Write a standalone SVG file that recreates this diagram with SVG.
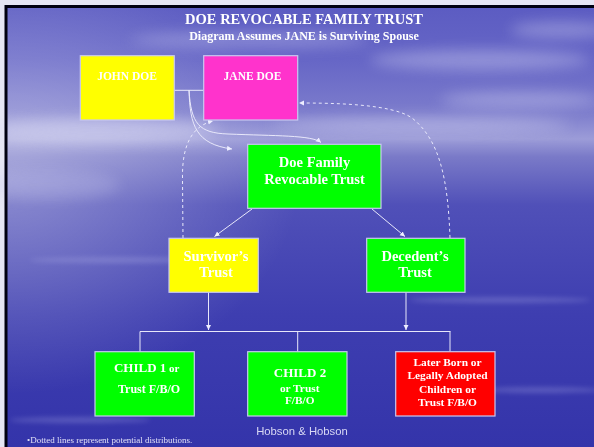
<svg xmlns="http://www.w3.org/2000/svg" width="594" height="447" viewBox="0 0 594 447">
<defs>
<linearGradient id="sky" x1="0" y1="0" x2="0" y2="1">
<stop offset="0" stop-color="#5c5cc2"/>
<stop offset="0.12" stop-color="#6666c6"/>
<stop offset="0.24" stop-color="#7c7ccc"/>
<stop offset="0.30" stop-color="#9c9cd8"/>
<stop offset="0.34" stop-color="#7a7ac8"/>
<stop offset="0.45" stop-color="#5050b8"/>
<stop offset="0.7" stop-color="#3e3eb0"/>
<stop offset="1" stop-color="#3434aa"/>
</linearGradient>
<radialGradient id="leftglow" cx="0" cy="0.38" r="0.5">
<stop offset="0" stop-color="#ffffff" stop-opacity="0.35"/>
<stop offset="1" stop-color="#ffffff" stop-opacity="0"/>
</radialGradient>
<filter id="blur" x="-50%" y="-50%" width="200%" height="200%"><feGaussianBlur stdDeviation="7"/></filter>
<filter id="blur2" x="-50%" y="-50%" width="200%" height="200%"><feGaussianBlur stdDeviation="2.5"/></filter>
<marker id="ah" markerWidth="6" markerHeight="6" refX="5" refY="3" orient="auto" markerUnits="userSpaceOnUse">
<path d="M0,0.5 L5,3 L0,5.5 Z" fill="#eeeeff"/>
</marker>
<style>
.bx{stroke:#c8c8f0;stroke-width:1.2}
.t{font-family:"Liberation Serif","Times New Roman",serif;font-weight:bold;fill:#ffffff;text-anchor:middle}
.ln{fill:none;stroke:#e8e8fa;stroke-width:1}
.ds{fill:none;stroke:#e8e8fa;stroke-width:1;stroke-dasharray:3,3}
</style>
</defs>
<rect width="594" height="447" fill="#e6e6f4"/>
<rect x="7" y="7" width="587" height="440" fill="url(#sky)"/>
<rect x="7" y="7" width="587" height="440" fill="url(#leftglow)"/>
<g opacity="0.45" filter="url(#blur)">
<ellipse cx="480" cy="60" rx="110" ry="10" fill="#c8c8ee"/>
<ellipse cx="520" cy="100" rx="80" ry="8" fill="#c8c8ee"/>
<ellipse cx="420" cy="125" rx="150" ry="8" fill="#d0d0f0"/>
<ellipse cx="100" cy="130" rx="120" ry="12" fill="#e0e0f6"/>
<ellipse cx="50" cy="185" rx="70" ry="14" fill="#c8c8ee" opacity="0.6"/>
<ellipse cx="250" cy="40" rx="120" ry="8" fill="#b8b8e8"/>
<ellipse cx="560" cy="30" rx="50" ry="8" fill="#c0c0ea"/>
</g>
<g opacity="0.25" filter="url(#blur2)">
<ellipse cx="120" cy="260" rx="90" ry="3" fill="#c0c0f0"/>
<ellipse cx="500" cy="300" rx="90" ry="3" fill="#c0c0f0"/>
<ellipse cx="80" cy="420" rx="70" ry="3" fill="#c0c0f0"/>
<ellipse cx="540" cy="390" rx="60" ry="3" fill="#c0c0f0"/>
</g>
<path d="M6,447 V6.5 H594" fill="none" stroke="#000010" stroke-width="3"/>

<text class="t" x="304" y="24" font-size="14.5" fill="#f4f4ff">DOE REVOCABLE FAMILY TRUST</text>
<text class="t" x="304" y="39.5" font-size="12">Diagram Assumes JANE is Surviving Spouse</text>

<g id="connectors">
<path class="ln" d="M174,90.3 H204"/>
<path class="ln" d="M189,90 C190,126 196,144 232,149" marker-end="url(#ah)"/>
<path class="ln" d="M189,90 C191,124 199,133 228,134 C275,136 312,135 321,142.5" marker-end="url(#ah)"/>
<path class="ln" d="M252,209 L214.5,236.5" marker-end="url(#ah)"/>
<path class="ln" d="M372,209 L405,236.5" marker-end="url(#ah)"/>
<path class="ds" d="M183,238 L182.5,178 C182,145 192,126 213,121" marker-end="url(#ah)"/>
<path class="ds" d="M450,238 C448,180 440,140 412,118 C392,104 335,103 299,103" marker-end="url(#ah)"/>
<path class="ln" d="M208.5,292 V330" marker-end="url(#ah)"/>
<path class="ln" d="M406,292 V330" marker-end="url(#ah)"/>
<path class="ln" d="M140,331.5 H450.5"/>
<path class="ln" d="M140,331.5 V352"/>
<path class="ln" d="M297.7,331.5 V352"/>
<path class="ln" d="M450,331.5 V352"/>
</g>

<g id="john">
<rect class="bx" x="80.3" y="55.7" width="94" height="64.3" fill="#ffff00"/>
<text class="t" x="127" y="80" font-size="11.5">JOHN DOE</text>
</g>
<g id="jane">
<rect class="bx" x="203.7" y="55.7" width="94" height="64.3" fill="#ff33cc"/>
<text class="t" x="252.5" y="80" font-size="11.5">JANE DOE</text>
</g>
<g id="family-trust">
<rect class="bx" x="247.7" y="144.3" width="133.3" height="64" fill="#00ff00"/>
<text class="t" x="314.5" y="167.3" font-size="14.5">Doe Family</text>
<text class="t" x="314.5" y="184.3" font-size="14.5">Revocable Trust</text>
</g>
<g id="survivors-trust">
<rect class="bx" x="169" y="238.3" width="89.3" height="54" fill="#ffff00"/>
<text class="t" x="216" y="260.7" font-size="14.5">Survivor’s</text>
<text class="t" x="216" y="277.3" font-size="14.5">Trust</text>
</g>
<g id="decedents-trust">
<rect class="bx" x="366.7" y="238.3" width="98.3" height="54" fill="#00ff00"/>
<text class="t" x="415" y="260.7" font-size="14.5">Decedent’s</text>
<text class="t" x="415" y="277.3" font-size="14.5">Trust</text>
</g>
<g id="child1">
<rect class="bx" x="95" y="351.7" width="99.3" height="64.3" fill="#00ff00"/>
<text class="t" x="146.7" y="371.7" font-size="13">CHILD 1<tspan font-size="11"> or</tspan></text>
<text class="t" x="149" y="392.7" font-size="12">Trust F/B/O</text>
</g>
<g id="child2">
<rect class="bx" x="247.7" y="351.7" width="99.3" height="64.3" fill="#00ff00"/>
<text class="t" x="300" y="376.7" font-size="13">CHILD 2</text>
<text class="t" x="299.7" y="391.7" font-size="11.4">or Trust</text>
<text class="t" x="299.7" y="404.3" font-size="11.3">F/B/O</text>
</g>
<g id="child3">
<rect class="bx" x="395.7" y="351.7" width="99.3" height="64.3" fill="#ff0000"/>
<text class="t" x="447.5" y="365.7" font-size="11.4">Later Born or</text>
<text class="t" x="447.5" y="379.3" font-size="11.4">Legally Adopted</text>
<text class="t" x="447.5" y="392.7" font-size="11.4">Children or</text>
<text class="t" x="447.5" y="406" font-size="11.4">Trust F/B/O</text>
</g>

<text x="302" y="435" font-family="Liberation Sans, Arial, sans-serif" font-size="11.3" fill="#d8d8f4" text-anchor="middle">Hobson &amp; Hobson</text>
<text x="27" y="443" font-family="Liberation Serif, Times New Roman, serif" font-size="9" fill="#e0e0f6">•Dotted lines represent potential distributions.</text>
</svg>
